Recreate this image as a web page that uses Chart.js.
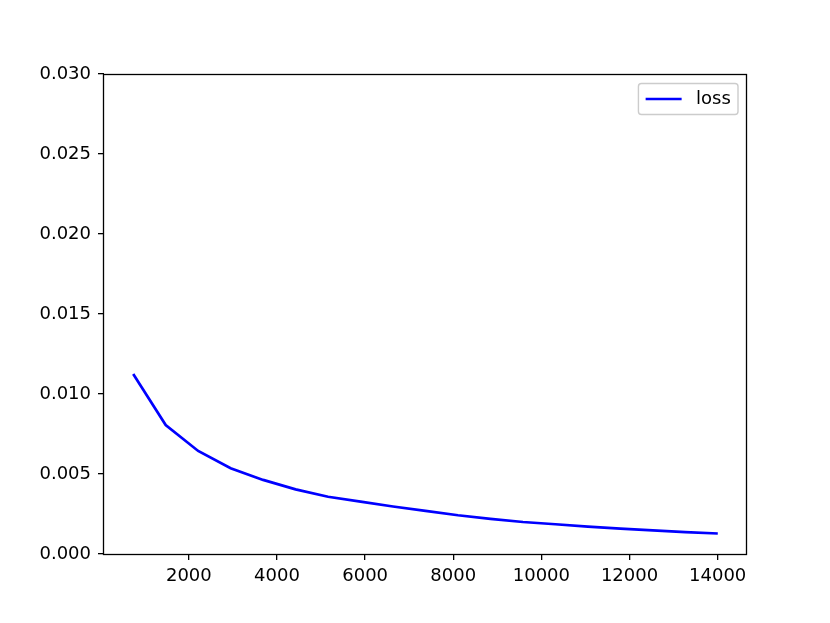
<!DOCTYPE html>
<html>
<head>
<meta charset="utf-8">
<script src="https://cdn.jsdelivr.net/npm/chart.js@4/dist/chart.umd.min.js"></script>
<style>
  html, body { margin: 0; padding: 0; background: #fff; }
  #wrap { width: 830px; height: 623px; }
</style>
</head>
<body>
<div id="wrap"><canvas id="c" width="830" height="623"></canvas></div>
<script>
const iterations = [737, 1474, 2211, 2948, 3685, 4422, 5159, 5896, 6633, 7370, 8107, 8844, 9581, 10318, 11055, 11792, 12529, 13266, 14003];
const lossValues = [0.01125, 0.00806, 0.00644, 0.00536, 0.00463, 0.00404, 0.00358, 0.00327, 0.00297, 0.00269, 0.00242, 0.00220, 0.00200, 0.00186, 0.00171, 0.00158, 0.00148, 0.00137, 0.00128];
const xTickValues = [2000, 4000, 6000, 8000, 10000, 12000, 14000];
const yTickValues = [0.000, 0.005, 0.010, 0.015, 0.020, 0.025, 0.030];
const seriesLabel = 'loss';

const FONT = '"DejaVu Sans", sans-serif';

const framePlugin = {
  id: 'frame',
  afterDraw(chart) {
    const ctx = chart.ctx, a = chart.chartArea;
    ctx.save();
    ctx.strokeStyle = '#000';
    ctx.lineWidth = 1.3;
    ctx.strokeRect(a.left - 0.5, a.top + 0.5, a.right - a.left, a.bottom - a.top);
    // legend (matplotlib style, upper right)
    const ds = chart.data.datasets[0];
    ctx.font = '18px ' + FONT;
    const tw = ctx.measureText(ds.label).width;
    const right = a.right - 9, top = a.top + 9.5;
    const w = 7.2 + 36 + 14.4 + tw + 7.2;
    const h = 31;
    const left = right - w;
    ctx.beginPath();
    if (ctx.roundRect) ctx.roundRect(left, top, w, h, 3); else ctx.rect(left, top, w, h);
    ctx.fillStyle = 'rgba(255,255,255,0.8)';
    ctx.fill();
    ctx.strokeStyle = '#cccccc';
    ctx.lineWidth = 1.4;
    ctx.stroke();
    const cy = top + h / 2;
    ctx.beginPath();
    ctx.moveTo(left + 7.2, cy);
    ctx.lineTo(left + 7.2 + 36, cy);
    ctx.strokeStyle = ds.borderColor;
    ctx.lineWidth = 2.7;
    ctx.stroke();
    ctx.fillStyle = '#000';
    ctx.textBaseline = 'middle';
    ctx.textAlign = 'left';
    ctx.fillText(ds.label, left + 7.2 + 36 + 14.4, cy);
    ctx.restore();
  }
};

new Chart(document.getElementById('c'), {
  type: 'line',
  data: {
    datasets: [{
      label: seriesLabel,
      data: iterations.map((x, i) => ({ x: x, y: lossValues[i] })),
      borderColor: '#0000ff',
      backgroundColor: '#0000ff',
      borderWidth: 2.7,
      pointRadius: 0,
      tension: 0,
      fill: false
    }]
  },
  options: {
    responsive: false,
    animation: false,
    devicePixelRatio: 1,
    layout: { padding: { left: 0, top: 74, right: 83, bottom: 0 } },
    plugins: { legend: { display: false }, tooltip: { enabled: false } },
    scales: {
      x: {
        type: 'linear',
        min: 74,
        max: 14666,
        afterFit(s) { s.height = 69; },
        afterBuildTicks(s) { s.ticks = xTickValues.map(v => ({ value: v })); },
        border: { display: false },
        grid: { drawOnChartArea: false, drawTicks: true, tickLength: 6, color: '#000', lineWidth: 1.3 },
        ticks: { color: '#000', font: { family: FONT, size: 18 }, padding: 6, maxRotation: 0, autoSkip: false,
                 callback: v => String(v) }
      },
      y: {
        type: 'linear',
        min: 0,
        max: 0.03,
        afterFit(s) { s.width = 104; },
        afterBuildTicks(s) { s.ticks = yTickValues.map(v => ({ value: v })); },
        border: { display: false },
        grid: { drawOnChartArea: false, drawTicks: true, tickLength: 6, color: '#000', lineWidth: 1.3 },
        ticks: { color: '#000', font: { family: FONT, size: 18 }, padding: 7, autoSkip: false,
                 callback: v => Number(v).toFixed(3) }
      }
    }
  },
  plugins: [framePlugin]
});
</script>
</body>
</html>
